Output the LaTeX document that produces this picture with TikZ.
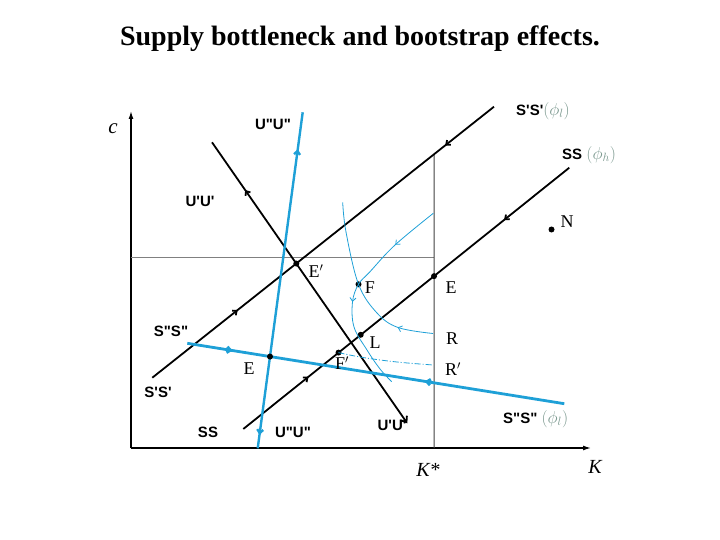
\documentclass[tikz,border=0pt]{standalone}
\usepackage{fontspec}
\setmainfont{Liberation Serif}
\newfontfamily\lblfont{Liberation Sans}[Ligatures=TeXOff]
\usetikzlibrary{arrows.meta, decorations.markings}
\definecolor{flowblue}{RGB}{30, 160, 215}
\definecolor{phigray}{RGB}{120, 150, 140}
\newcommand{\fwtip}{\arrow{Straight Barb[length=3.5pt,width=6pt]}}
\newcommand{\bwtip}{\arrowreversed{Straight Barb[length=3.5pt,width=6pt]}}
\newcommand{\phitag}[1]{\textcolor{phigray}{\mdseries\fontsize{17}{17}\selectfont$(\phi_{#1})$}}

\begin{document}
\begin{tikzpicture}[x=1pt, y=-1pt]
\useasboundingbox (0,0) rectangle (720,540);

\tikzstyle{curvelbl} = [font=\lblfont\bfseries\fontsize{15}{15}\selectfont, inner sep=0pt]
\tikzstyle{ptlbl} = [font=\fontsize{18}{18}\selectfont, inner sep=0pt]
\tikzstyle{dot} = [circle, fill, inner sep=0pt, minimum size=6pt]
\tikzstyle{locus} = [line width=1.8pt]
\tikzstyle{bluelocus} = [line width=2.4pt, flowblue]
\tikzstyle{traj} = [line width=0.8pt, flowblue]
\tikzset{marks/.style={postaction={decorate}, decoration={markings, #1}}}

% title
\node[font=\bfseries\fontsize{28}{28}\selectfont] (title) at (360,39) {Supply bottleneck and bootstrap effects.};

% axes
\coordinate (O) at (131,448);
\coordinate (cTop) at (131,111);
\coordinate (kEnd) at (591,448);
\draw[line width=1.3pt, -{Latex[length=8pt,width=5pt]}] (O) -- (cTop);
\draw[line width=1.3pt, -{Latex[length=8pt,width=5pt]}] (O) -- (kEnd);
\node[font=\itshape\fontsize{21}{21}\selectfont] (cLbl) at (113,129) {c};
\node[font=\itshape\fontsize{20}{20}\selectfont] (kLbl) at (595,467) {K};
\node[font=\itshape\fontsize{20}{20}\selectfont] (kstarLbl) at (428,470) {K*};

% end points of the loci
\coordinate (sp0) at (152.3,377.7); \coordinate (sp1) at (494,106.7);
\coordinate (ss0) at (243.3,429);   \coordinate (ss1) at (569.3,167.7);
\coordinate (up0) at (212,142.3);   \coordinate (up1) at (407.3,423.3);
\coordinate (uq0) at (302.7,112.3); \coordinate (uq1) at (257.7,448.3);
\coordinate (sq0) at (187.3,343.3); \coordinate (sq1) at (564.3,403.7);
\coordinate (ks0) at (434,448);     \coordinate (ks1) at (intersection of sp0--sp1 and 434,0--434,448);
\coordinate (h0) at (131,257);      \coordinate (h1) at (434,257);

% guide lines
\draw[gray, line width=0.9pt] (h0) -- (h1);
\draw[black!75, line width=1pt] (ks0) -- (ks1);

% loci
\draw[locus, marks={mark=at position 0.25 with {\fwtip}, mark=at position 0.857 with {\bwtip}}] (sp0) -- (sp1);
\draw[locus, marks={mark=at position 0.2 with {\fwtip}, mark=at position 0.8 with {\bwtip}}] (ss0) -- (ss1);
\draw[locus, -{Straight Barb[length=5pt,width=8pt]}, marks={mark=at position 0.17 with {\bwtip}}] (up0) -- (up1);
\draw[bluelocus, marks={mark=at position 0.11 with {\bwtip}, mark=at position 0.96 with {\fwtip}}] (uq0) -- (uq1);
\draw[bluelocus, line width=2.8pt, marks={mark=at position 0.12 with {\fwtip}, mark=at position 0.63 with {\bwtip}}] (sq0) -- (sq1);

% equilibrium points
\node[dot] (Ep) at (intersection of sp0--sp1 and up0--up1) {};
\node[dot] (El) at (intersection of uq0--uq1 and sq0--sq1) {};
\node[dot] (Er) at (intersection of ss0--ss1 and ks0--ks1) {};
\node[dot] (F) at (358.5,284.3) {};
\node[dot] (L) at (360.7,334.8) {};
\node[dot] (Fp) at (338.5,352.6) {};
\node[dot] (N) at (551.5,229.5) {};
\coordinate (rEnd) at (433,333.5);
\coordinate (rpEnd) at (433,365);
\coordinate (qTop) at (433.3,213.3);

% trajectories
\draw[traj, marks={mark=at position 0.8 with {\bwtip}}] plot[smooth, tension=0.6] coordinates {(342.7,202.3) (346,232) (F.center) (377,313) (398,327.5) (rEnd)};
\draw[traj, marks={mark=at position 0.23 with {\fwtip}, mark=at position 0.57 with {\fwtip}}] plot[smooth, tension=0.6] coordinates {(qTop) (395,245) (370,271.7) (F.center) (352.5,302) (354,327) (367,350) (380,369) (391.7,381.7)};
\draw[traj, dash pattern=on 6pt off 2pt on 1pt off 2pt] plot[smooth, tension=0.6] coordinates {(Fp.center) (363,357.5) (397,362) (rpEnd)};

% point labels
\node[ptlbl] (EpLbl) at (316,271) {E$'$};
\node[ptlbl] (FLbl) at (370,288) {F};
\node[ptlbl] (ErLbl) at (451,288) {E};
\node[ptlbl] (RLbl) at (452,339) {R};
\node[ptlbl] (RpLbl) at (453,369) {R$'$};
\node[ptlbl] (LLbl) at (375,343) {L};
\node[ptlbl] (FpLbl) at (342,363) {F$'$};
\node[ptlbl] (ElLbl) at (249,369) {E};
\node[ptlbl] (NLbl) at (567,222) {N};

% curve labels
\node[curvelbl] (uqTopLbl) at (273,124) {U"U"};
\node[curvelbl] (upTopLbl) at (200,201) {U'U'};
\node[curvelbl] (sqLbl) at (171,331) {S"S"};
\node[curvelbl] (spLbl) at (158,392) {S'S'};
\node[curvelbl] (ssLbl) at (208,432) {SS};
\node[curvelbl] (uqBotLbl) at (293,432) {U"U"};
\node[curvelbl] (upBotLbl) at (392,425) {U'U'};
\node[curvelbl, anchor=west] (spPhiLbl) at (516,111) {S'S'\phitag{l}};
\node[curvelbl, anchor=west] (ssPhiLbl) at (562,155) {SS \phitag{h}};
\node[curvelbl, anchor=west] (sqPhiLbl) at (503,419) {S"S" \phitag{l}};

\end{tikzpicture}
\end{document}
